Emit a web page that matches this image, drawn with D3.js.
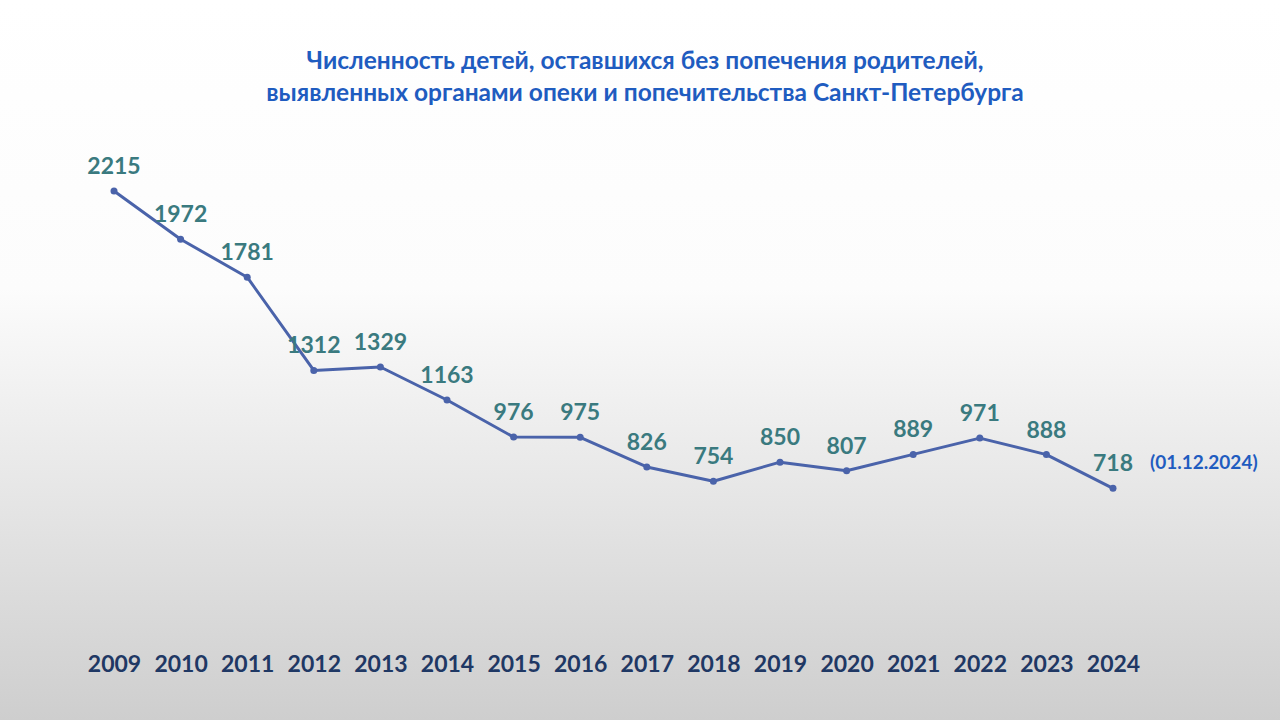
<!DOCTYPE html>
<html>
<head>
<meta charset="utf-8">
<script src="https://cdn.jsdelivr.net/npm/d3@7"></script>
<style>
  html, body { margin: 0; padding: 0; }
  body { width: 1280px; height: 720px; overflow: hidden; }
</style>
</head>
<body>
<div id="chart"></div>
<script>
// chart data
const years = ["2009", "2010", "2011", "2012", "2013", "2014", "2015", "2016",
  "2017", "2018", "2019", "2020", "2021", "2022", "2023", "2024"];
const counts = [2215, 1972, 1781, 1312, 1329, 1163, 976, 975,
  826, 754, 850, 807, 889, 971, 888, 718];
const titleLines = [
  "Численность детей, оставшихся без попечения родителей,",
  "выявленных органами опеки и попечительства Санкт-Петербурга"
];
const lastNote = "(01.12.2024)";

const W = 1280, H = 720;
const font = "Lato, 'Open Sans', sans-serif";

const svg = d3.select("#chart").append("svg")
  .attr("width", W)
  .attr("height", H);

// slide background: white on top fading to light grey
const grad = svg.append("defs").append("linearGradient")
  .attr("id", "bg")
  .attr("x1", 0).attr("y1", 0).attr("x2", 0).attr("y2", 1);
grad.append("stop").attr("offset", "0%").attr("stop-color", "#ffffff");
grad.append("stop").attr("offset", "40%").attr("stop-color", "#fcfcfc");
grad.append("stop").attr("offset", "100%").attr("stop-color", "#cecece");
svg.append("rect").attr("width", W).attr("height", H).attr("fill", "url(#bg)");

// title
svg.append("g")
  .selectAll("text")
  .data(titleLines)
  .join("text")
  .attr("x", 645)
  .attr("y", (d, i) => 69 + i * 32)
  .attr("text-anchor", "middle")
  .attr("font-family", font)
  .attr("font-weight", "bold")
  .attr("font-size", 24.5)
  .attr("fill", "#1f5cc0")
  .text(d => d);

// scales
const xScale = d3.scalePoint()
  .domain(years)
  .range([114, 1113]);

const yScale = d3.scaleLinear()
  .domain([0, 2215])
  .range([631, 191]);

// line
const line = d3.line()
  .x((d, i) => xScale(years[i]))
  .y(d => yScale(d));

svg.append("path")
  .datum(counts)
  .attr("fill", "none")
  .attr("stroke", "#4a63aa")
  .attr("stroke-width", 3)
  .attr("stroke-linejoin", "round")
  .attr("d", line);

// markers
svg.append("g")
  .selectAll("circle")
  .data(counts)
  .join("circle")
  .attr("cx", (d, i) => xScale(years[i]))
  .attr("cy", d => yScale(d))
  .attr("r", 3.5)
  .attr("fill", "#4a63aa");

// value labels above the points
svg.append("g")
  .selectAll("text")
  .data(counts)
  .join("text")
  .attr("x", (d, i) => xScale(years[i]))
  .attr("y", d => yScale(d) - 17)
  .attr("text-anchor", "middle")
  .attr("font-family", font)
  .attr("font-weight", "bold")
  .attr("font-size", 23)
  .attr("fill", "#3a7a7f")
  .text(d => d);

// note next to the last value
svg.append("text")
  .attr("x", xScale(years[years.length - 1]) + 37)
  .attr("y", yScale(counts[counts.length - 1]) - 19)
  .attr("font-family", font)
  .attr("font-weight", "bold")
  .attr("font-size", 19)
  .attr("fill", "#1f5cc0")
  .text(lastNote);

// year axis (labels only)
const xAxis = svg.append("g")
  .attr("transform", "translate(0,672)")
  .call(d3.axisBottom(xScale).tickSize(0).tickPadding(0));
xAxis.select(".domain").remove();
xAxis.selectAll("text")
  .attr("dy", 0)
  .attr("font-family", font)
  .attr("font-weight", "bold")
  .attr("font-size", 23)
  .attr("fill", "#1f3864");
</script>
</body>
</html>
